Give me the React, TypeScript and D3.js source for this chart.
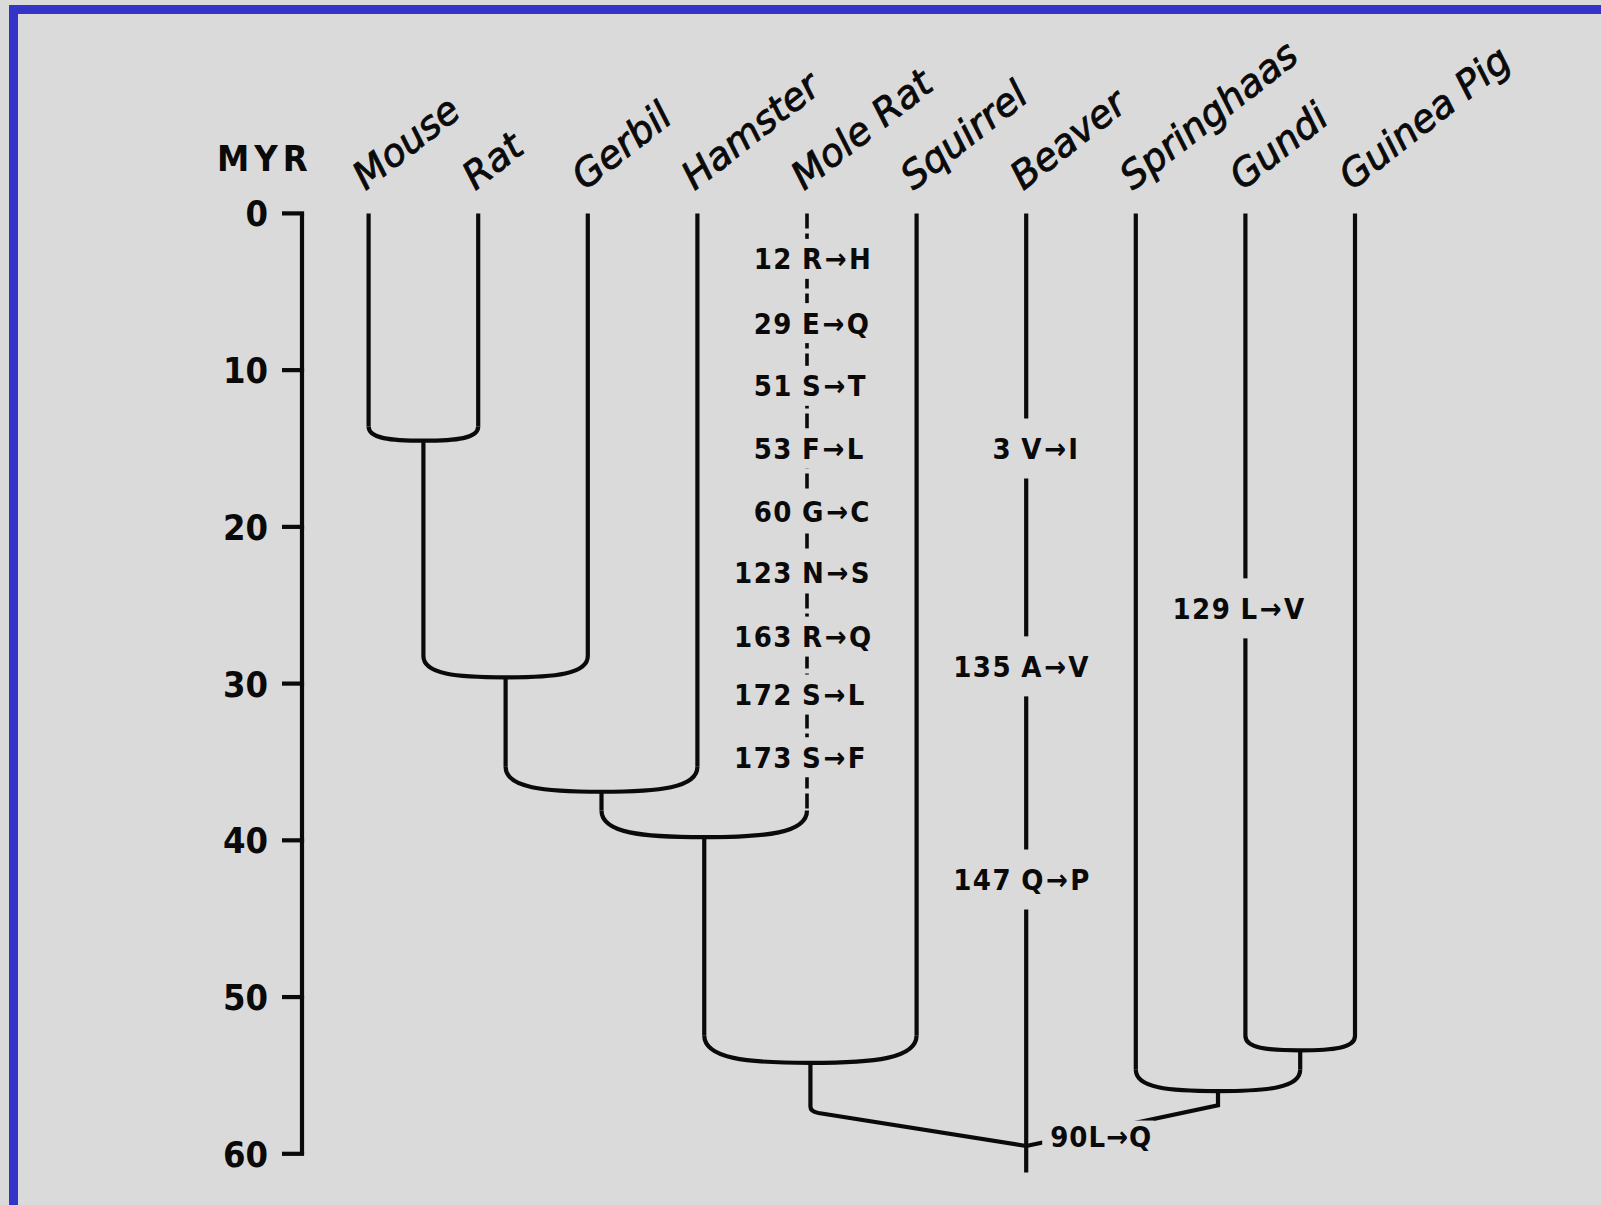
import React from "react";
import * as d3 from "d3";

// ---------- data ----------
const taxa = ["Mouse", "Rat", "Gerbil", "Hamster", "Mole Rat", "Squirrel", "Beaver", "Springhaas", "Gundi", "Guinea Pig"];
const axisTicks = [0, 10, 20, 30, 40, 50, 60];

// merges (left child, right child, new node id, age in MYR)
const mergeLeft = ["Mouse", "n1", "n2", "n3", "n4", "Gundi", "Springhaas"];
const mergeRight = ["Rat", "Gerbil", "Hamster", "Mole Rat", "Squirrel", "Guinea Pig", "n6"];
const mergeId = ["n1", "n2", "n3", "n4", "n5", "n6", "n7"];
const mergeAge = [14.5, 29.6, 36.9, 39.8, 54.2, 53.4, 56.0];

// root: both clades join the Beaver lineage
const rootLeft = "n5";
const rootRight = "n7";
const rootTaxon = "Beaver";
const rootAge = 59.5;
const leftElbowAge = 57.3;
const rightElbowAge = 56.9;
const beaverEndAge = 61.2;

// amino-acid replacements
const mutTaxon = ["Mole Rat", "Mole Rat", "Mole Rat", "Mole Rat", "Mole Rat", "Mole Rat", "Mole Rat", "Mole Rat", "Mole Rat", "Beaver", "Beaver", "Beaver", "Gundi", "Beaver"];
const mutPos = ["12", "29", "51", "53", "60", "123", "163", "172", "173", "3", "135", "147", "129", "90"];
const mutFrom = ["R", "E", "S", "F", "G", "N", "R", "S", "S", "V", "A", "Q", "L", "L"];
const mutTo = ["H", "Q", "T", "L", "C", "S", "Q", "L", "F", "I", "V", "P", "V", "Q"];
const mutAge = [2.9, 7.0, 11.0, 15.0, 19.0, 22.9, 27.0, 30.7, 34.7, 15.0, 28.9, 42.5, 25.2, 58.9];
const mutOnRoot = [false, false, false, false, false, false, false, false, false, false, false, false, false, true];

const dashedTaxon = "Mole Rat";

// ---------- layout ----------
const W = 1601;
const H = 1205;
const BG = "#dadada";
const INK = "#0a0a0a";
const LW = 4.2;

const y = d3.scaleLinear().domain([0, 60]).range([213.4, 1153.8]);
const x = d3.scalePoint<string>().domain(taxa).range([368.6, 1355]);

const labelFont = "'DejaVu Sans Condensed', 'DejaVu Sans', sans-serif";

export default function App() {
  const nodeX: Record<string, number> = {};
  const nodeTop: Record<string, number> = {};
  taxa.forEach((t) => {
    nodeX[t] = x(t) as number;
    nodeTop[t] = 0;
  });
  mergeId.forEach((id, i) => {
    nodeX[id] = (nodeX[mergeLeft[i]] + nodeX[mergeRight[i]]) / 2;
    nodeTop[id] = mergeAge[i];
  });

  const paths: React.ReactNode[] = [];

  mergeId.forEach((id, i) => {
    const a = mergeLeft[i];
    const b = mergeRight[i];
    const xa = nodeX[a];
    const xb = nodeX[b];
    const xm = nodeX[id];
    const yb = y(mergeAge[i]);
    const h = 0.13 * (xb - xa);
    const vA = d3.path();
    vA.moveTo(xa, y(nodeTop[a]));
    vA.lineTo(xa, yb - h);
    const vB = d3.path();
    vB.moveTo(xb, y(nodeTop[b]));
    vB.lineTo(xb, yb - h);
    const curve = d3.path();
    curve.moveTo(xa, yb - h);
    curve.bezierCurveTo(xa, yb - h * 0.15, xa + (xm - xa) * 0.4, yb, xm, yb);
    curve.bezierCurveTo(xb - (xb - xm) * 0.4, yb, xb, yb - h * 0.15, xb, yb - h);
    paths.push(
      <path key={`va${i}`} d={vA.toString()} stroke={INK} strokeWidth={a === dashedTaxon ? 3.6 : LW} fill="none" strokeDasharray={a === dashedTaxon ? "15 5" : undefined} />,
      <path key={`vb${i}`} d={vB.toString()} stroke={INK} strokeWidth={b === dashedTaxon ? 3.6 : LW} fill="none" strokeDasharray={b === dashedTaxon ? "15 5" : undefined} />,
      <path key={`c${i}`} d={curve.toString()} stroke={INK} strokeWidth={LW} fill="none" />
    );
  });

  const bx = nodeX[rootTaxon];
  paths.push(<line key="beaver" x1={bx} x2={bx} y1={y(0)} y2={y(beaverEndAge)} stroke={INK} strokeWidth={LW} />);

  const lx = nodeX[rootLeft];
  const rootPathL = d3.path();
  rootPathL.moveTo(lx, y(nodeTop[rootLeft]));
  rootPathL.lineTo(lx, y(leftElbowAge) - 5);
  rootPathL.quadraticCurveTo(lx, y(leftElbowAge), lx + 8, y(leftElbowAge) + 1.5);
  rootPathL.lineTo(bx, y(rootAge));
  const rx = nodeX[rootRight];
  const rootPathR = d3.path();
  rootPathR.moveTo(rx, y(nodeTop[rootRight]));
  rootPathR.lineTo(rx, y(rightElbowAge));
  rootPathR.lineTo(bx, y(rootAge));
  paths.push(
    <path key="rootL" d={rootPathL.toString()} stroke={INK} strokeWidth={LW} fill="none" />,
    <path key="rootR" d={rootPathR.toString()} stroke={INK} strokeWidth={LW} fill="none" />
  );

  const muts = mutPos.map((p, i) => {
    const lineX = nodeX[mutTaxon[i]];
    const cy = y(mutAge[i]);
    const isMole = mutTaxon[i] === dashedTaxon;
    const pad = isMole ? 20 : 30;
    if (mutOnRoot[i]) {
      return (
        <g key={`m${i}`}>
          <rect x={lineX + 16} y={cy - 16} width={112} height={38} fill={BG} />
          <text x={lineX + 24} y={cy} dy="0.36em" fontFamily={labelFont} fontWeight="bold" fontSize={29} letterSpacing={1} fill={INK}>
            {`${p}${mutFrom[i]}→${mutTo[i]}`}
          </text>
        </g>
      );
    }
    return (
      <g key={`m${i}`}>
        <rect x={lineX - 8} y={cy - pad} width={16} height={pad * 2} fill={BG} />
        <text x={lineX - 14} y={cy} dy="0.36em" textAnchor="end" fontFamily={labelFont} fontWeight="bold" fontSize={29} letterSpacing={1.5} fill={INK}>
          {p}
        </text>
        <text x={lineX - 5} y={cy} dy="0.36em" fontFamily={labelFont} fontWeight="bold" fontSize={29} letterSpacing={2.5} fill={INK}>
          {`${mutFrom[i]}→${mutTo[i]}`}
        </text>
      </g>
    );
  });

  const axisX = 302;
  const axis = (
    <g>
      <line x1={axisX} x2={axisX} y1={y(0)} y2={y(60)} stroke={INK} strokeWidth={LW} />
      {axisTicks.map((t) => (
        <g key={`t${t}`}>
          <line x1={axisX - 20} x2={axisX + LW / 2} y1={y(t)} y2={y(t)} stroke={INK} strokeWidth={LW} />
          <text x={axisX - 34} y={y(t)} dy="0.36em" textAnchor="end" fontFamily={labelFont} fontWeight="bold" fontSize={36} fill={INK}>
            {t}
          </text>
        </g>
      ))}
      <text x={217} y={171} fontFamily={labelFont} fontWeight="bold" fontSize={36} letterSpacing={5} fill={INK}>
        MYR
      </text>
    </g>
  );

  const taxonLabels = taxa.map((t) => (
    <text
      key={`l${t}`}
      transform={`translate(${(x(t) as number) - 3},${191}) rotate(-38)`}
      fontFamily="'DejaVu Sans', sans-serif"
      fontStyle="oblique"
      fontSize={38}
      fill={INK}
      stroke={INK}
      strokeWidth={0.9}
    >
      {t}
    </text>
  ));

  return (
    <svg width={W} height={H} style={{ position: "absolute", left: 0, top: 0, display: "block" }}>
      <rect x={0} y={0} width={W} height={H} fill={BG} />
      <rect x={9} y={5} width={W - 9} height={9} fill="#3434c8" />
      <rect x={9} y={5} width={9} height={H - 5} fill="#3434c8" />
      {axis}
      {paths}
      {muts}
      {taxonLabels}
    </svg>
  );
}
